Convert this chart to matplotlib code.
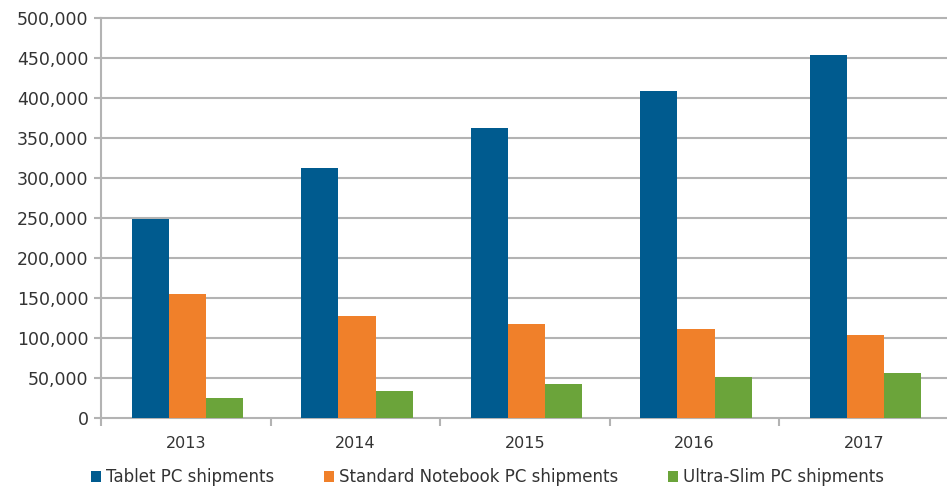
import numpy as np
import matplotlib.pyplot as plt

years = ['2013', '2014', '2015', '2016', '2017']
tablet = [249000, 313000, 363000, 409000, 454000]
notebook = [154500, 128000, 118000, 111000, 104000]
ultraslim = [25500, 34000, 42500, 51500, 56500]
series_names = ['Tablet PC shipments', 'Standard Notebook PC shipments', 'Ultra-Slim PC shipments']
colors = ['#005b8f', '#f0802a', '#6ba43a']

fig = plt.figure(figsize=(9.47, 4.88), dpi=100)
ax = fig.add_axes([0.1067, 0.1434, 0.895, 0.8196])

x = np.arange(len(years))
w = 0.22
for i, (vals, name, c) in enumerate(zip([tablet, notebook, ultraslim], series_names, colors)):
    ax.bar(x + (i - 1) * w + 0.01, vals, w, color=c, label=name, zorder=3)

ax.set_xlim(-0.5, len(years) - 0.5)
ax.set_ylim(0, 500000)
ax.set_yticks(range(0, 500001, 50000))
ax.set_yticklabels(['{:,}'.format(v) for v in range(0, 500001, 50000)],
                   fontsize=12.5, color='#333333')
ax.yaxis.grid(True, color='#b3b3b3', linewidth=1.5, zorder=0)
for gl in ax.get_ygridlines():
    gl.set_clip_on(False)

ax.set_xticks(x)
ax.set_xticklabels(years, fontsize=11.5, color='#333333')
ax.tick_params(axis='x', length=0, pad=13)
ax.set_xticks(np.arange(-0.5, len(years)), minor=True)
ax.tick_params(axis='x', which='minor', length=6, color='#b3b3b3', width=1.5)
ax.tick_params(axis='y', length=5, color='#b3b3b3', width=1.5, pad=4)

for s in ['top', 'right', 'bottom']:
    ax.spines[s].set_visible(False)
ax.spines['left'].set_color('#b3b3b3')
ax.spines['left'].set_linewidth(1.5)

h, l = ax.get_legend_handles_labels()
fig.legend(h, l, loc='lower center', bbox_to_anchor=(0.515, 0.0), ncol=3, frameon=False,
           fontsize=12, handlelength=0.6, handleheight=0.6, handletextpad=0.3,
           columnspacing=3.0, labelcolor='#333333', borderpad=0.1, borderaxespad=0)

fig.savefig('out.png', dpi=100)
